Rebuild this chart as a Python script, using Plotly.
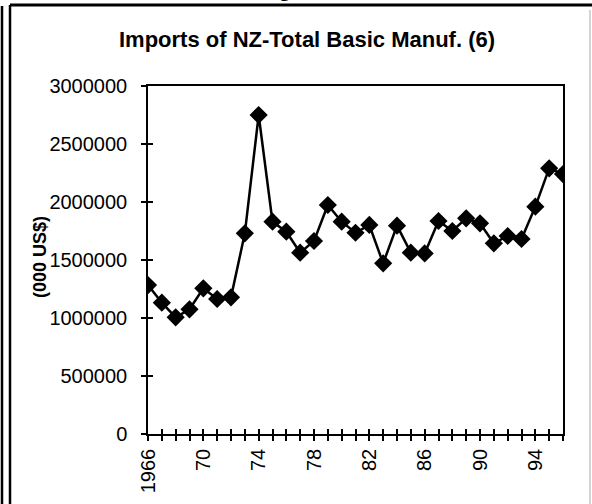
import plotly.graph_objects as go

# imports of NZ - total basic manufactures, thousand US$
years = list(range(1966, 1997))
imports = [1284000, 1132000, 1006000, 1075000, 1256000, 1164000, 1178000, 1730000,
           2750000, 1830000, 1744000, 1563000, 1664000, 1974000, 1830000, 1735000,
           1802000, 1471000, 1796000, 1563000, 1557000, 1836000, 1750000, 1859000,
           1816000, 1644000, 1707000, 1681000, 1960000, 2290000, 2241000]
tick_labels = {1966: "1966", 1970: "70", 1974: "74", 1978: "78",
               1982: "82", 1986: "86", 1990: "90", 1994: "94"}
y_ticks = [0, 500000, 1000000, 1500000, 2000000, 2500000, 3000000]

W, H = 592, 504
L, R, T, B = 148, 563, 86, 434   # plot area in pixels


def px(x):
    return (x - L) / (R - L)


def py(y):
    return (B - y) / (B - T)


fig = go.Figure()
fig.add_trace(go.Scatter(
    x=years, y=imports, mode="lines+markers",
    line=dict(color="black", width=2.5),
    marker=dict(symbol="diamond", size=14, color="black"),
    showlegend=False))

font = dict(family="Liberation Sans, Arial", size=20, color="black")

fig.update_layout(
    width=W, height=H,
    margin=dict(l=L, r=W - R, t=T, b=H - B),
    paper_bgcolor="white", plot_bgcolor="white",
    font=font,
    xaxis=dict(range=[1966, 1996], tickmode="array", tickvals=years,
               ticktext=[tick_labels.get(y, "") for y in years],
               tickangle=-90, ticks="outside", ticklen=5, tickwidth=1.5, tickcolor="black",
               showline=True, linecolor="black", linewidth=1.5, mirror=True,
               showgrid=False, zeroline=False, tickfont=font, automargin=False),
    xaxis2=dict(range=[1966, 1996], tickmode="array", tickvals=years, overlaying="x",
                ticks="inside", ticklen=5, tickwidth=1.5, tickcolor="black",
                showticklabels=False, showgrid=False, zeroline=False, side="bottom",
                automargin=False),
    yaxis=dict(range=[0, 3000000], tickmode="array", tickvals=y_ticks,
               ticktext=[str(v) for v in y_ticks],
               ticks="outside", ticklen=5, tickwidth=1.5, tickcolor="black",
               showline=True, linecolor="black", linewidth=1.5, mirror=True,
               showgrid=False, zeroline=False, tickfont=font, ticklabelstandoff=10,
               automargin=False),
    yaxis2=dict(range=[0, 3000000], tickmode="array", tickvals=y_ticks, overlaying="y",
                ticks="inside", ticklen=5, tickwidth=1.5, tickcolor="black",
                showticklabels=False, showgrid=False, zeroline=False, side="left",
                automargin=False),
)

# dummy trace to show the inward ticks
fig.add_trace(go.Scatter(x=[None], y=[None], xaxis="x2", yaxis="y2", showlegend=False))

fig.add_annotation(text="<b>Imports of NZ-Total Basic Manuf. (6)</b>", xref="paper", yref="paper",
                   x=px(307), y=py(39), xanchor="center", yanchor="middle", showarrow=False,
                   font=dict(family="Liberation Sans, Arial", size=22, color="black"))
fig.add_annotation(text="<b>(000 US$)</b>", xref="paper", yref="paper", textangle=-90,
                   x=px(40), y=py(257), xanchor="center", yanchor="middle", showarrow=False,
                   font=dict(family="Liberation Sans, Arial", size=18, color="black"))
fig.add_annotation(text="<b>Figure 6.0.0</b>", xref="paper", yref="paper",
                   x=px(312), y=py(3), xanchor="center", yanchor="bottom", showarrow=False,
                   font=dict(family="Liberation Serif, Times New Roman", size=20, color="black"))

# page frame lines
frame = [
    dict(x0=px(2), x1=px(2), y0=py(6), y1=py(504), width=2.5, color="black"),
    dict(x0=px(10), x1=px(10), y0=py(5), y1=py(504), width=2.5, color="black"),
    dict(x0=px(10), x1=px(592), y0=py(5), y1=py(5), width=3, color="black"),
    dict(x0=px(590), x1=px(590), y0=py(10), y1=py(504), width=1, color="#aaaaaa"),
]
for f in frame:
    fig.add_shape(type="line", xref="paper", yref="paper",
                  x0=f["x0"], x1=f["x1"], y0=f["y0"], y1=f["y1"],
                  line=dict(color=f["color"], width=f["width"]))

fig.write_html("out.html", config={"displayModeBar": False},
               post_script="document.body.style.margin='0';")
